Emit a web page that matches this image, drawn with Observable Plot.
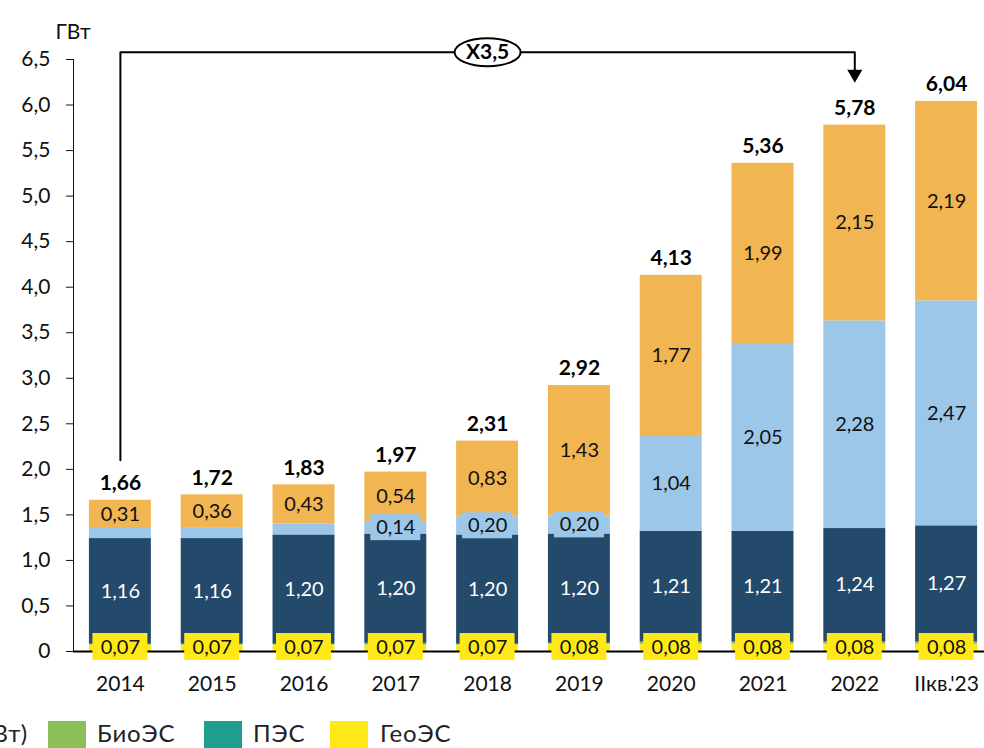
<!DOCTYPE html>
<html><head><meta charset="utf-8">
<script src="https://cdn.jsdelivr.net/npm/d3@7"></script>
<script src="https://cdn.jsdelivr.net/npm/@observablehq/plot@0.6"></script>
<style>
body{margin:0;background:#fff;font-family:Lato,sans-serif;overflow:hidden}
#wrap{width:984px;height:748px;position:relative;overflow:hidden}
#legend{position:relative;width:984px;height:38px;font-size:24px;letter-spacing:0.8px;color:#222}
#legend .sw{position:absolute;top:11px;width:38px;height:30px}
#legend .tx{position:absolute;top:8px;white-space:nowrap;line-height:30px}
</style></head><body>
<div id="wrap"><div id="chart"></div><div id="legend"></div></div>
<script>
const years = ["2014","2015","2016","2017","2018","2019","2020","2021","2022","IIкв.'23"];
const geo   = [0.07,0.07,0.07,0.07,0.07,0.08,0.08,0.08,0.08,0.08];
const bio   = [0.01,0.01,0.01,0.01,0.01,0.01,0.02,0.02,0.02,0.02];
const pes   = [0.00,0.00,0.00,0.01,0.00,0.00,0.01,0.01,0.01,0.01];
const hydro = [1.16,1.16,1.20,1.20,1.20,1.20,1.21,1.21,1.24,1.27];
const solar = [0.11,0.12,0.12,0.14,0.20,0.20,1.04,2.05,2.28,2.47];
const wind  = [0.31,0.36,0.43,0.54,0.83,1.43,1.77,1.99,2.15,2.19];
const totals = [1.66,1.72,1.83,1.97,2.31,2.92,4.13,5.36,5.78,6.04];
const seriesNames  = ["ГеоЭС","БиоЭС","ПЭС","МГЭС (до 50 МВт)","СЭС","ВЭС"];
const seriesColors = ["#FFE817","#8BBF5A","#1E9E8C","#23496B","#9DC7E8","#F1B552"];
const yTicks = [0,0.5,1,1.5,2,2.5,3,3.5,4,4.5,5,5.5,6,6.5];
const growthText = "X3,5";
const growthFrom = "2014", growthTo = "2022", growthMid = "2018";

const seriesValues = [geo, bio, pes, hydro, solar, wind];
const fmt = v => v.toFixed(2).replace(".", ",");

// stacked table
const rows = [];
years.forEach((yr, i) => {
  let acc = 0;
  seriesValues.forEach((vals, s) => {
    const v = vals[i];
    rows.push({year: yr, series: seriesNames[s], s, i, value: v, y1: acc, y2: acc + v, mid: acc + v / 2});
    acc += v;
  });
});
const totalRows = years.map((yr, i) => ({year: yr, total: totals[i]}));
const geoRows = rows.filter(d => d.s === 0);
const hydroRows = rows.filter(d => d.s === 3);
const windRows = rows.filter(d => d.s === 5);
const solarLabelRows = rows.filter(d => d.s === 4 && d.i >= 3);
const solarBoxRows = solarLabelRows.filter(d => d.value < 0.5);

// annotation path (above bars)
const topY = 6.58;
const growthPath = [
  {x: growthFrom, y: totals[0] + 0.44},
  {x: growthFrom, y: topY},
  {x: growthTo, y: topY},
  {x: growthTo, y: 6.30}
];
const ellipseSymbol = {draw(ctx){
  const rx = 33, ry = 14, k = 0.5523;
  ctx.moveTo(rx, 0);
  ctx.bezierCurveTo(rx, ry*k, rx*k, ry, 0, ry);
  ctx.bezierCurveTo(-rx*k, ry, -rx, ry*k, -rx, 0);
  ctx.bezierCurveTo(-rx, -ry*k, -rx*k, -ry, 0, -ry);
  ctx.bezierCurveTo(rx*k, -ry, rx, -ry*k, rx, 0);
  ctx.closePath();
}};

const H = 710;
const chart = Plot.plot({
  width: 984,
  height: H,
  marginTop: 59,
  marginBottom: H - 651,
  marginLeft: 73,
  marginRight: 0,
  style: {fontFamily: "Lato, sans-serif", fontSize: "21px", color: "#111", background: "#fff"},
  x: {domain: years, range: [74, 992], round: false, paddingInner: 0.325, paddingOuter: 0.1625, label: null, tickSize: 0, tickPadding: 25},
  y: {domain: [0, 6.5], ticks: yTicks, tickSize: 7, tickPadding: 16, label: null, line: true,
      tickFormat: d => d === 0 ? "0" : d.toFixed(1).replace(".", ",")},
  color: {domain: seriesNames, range: seriesColors},
  marks: [
    Plot.barY(rows, {x: "year", y1: "y1", y2: "y2", fill: "series"}),
    Plot.ruleY([0], {stroke: "#000", strokeWidth: 2}),
    // geo label boxes
    Plot.barY(geoRows, {x: "year", y1: 0, y2: 0, fill: seriesColors[0], insetTop: -18, insetBottom: -9, insetLeft: 3.5, insetRight: 3.5}),
    Plot.text(geoRows, {x: "year", y: 0, text: d => fmt(d.value), dy: -4, fill: "#111", fontSize: 20}),
    Plot.text(hydroRows, {x: "year", y: "mid", text: d => fmt(d.value), fill: "#fff", fontSize: 20}),
    Plot.barY(solarBoxRows, {x: "year", y1: "mid", y2: "mid", fill: seriesColors[4], insetTop: -13, insetBottom: -13, insetLeft: 6, insetRight: 6}),
    Plot.text(solarLabelRows, {x: "year", y: "mid", text: d => fmt(d.value), fill: "#111", fontSize: 20}),
    Plot.text(windRows, {x: "year", y: "mid", text: d => fmt(d.value), fill: "#111", fontSize: 20}),
    Plot.text(totalRows, {x: "year", y: "total", text: d => fmt(d.total), dy: -17, fill: "#000", fontWeight: "bold", fontSize: 21}),
    // growth annotation
    Plot.line(growthPath, {x: "x", y: "y", stroke: "#000", strokeWidth: 2, curve: "linear"}),
    Plot.dot([{x: growthTo, y: 6.34}], {x: "x", y: "y", symbol: "triangle", r: 5.6, rotate: 180, fill: "#000", stroke: "none"}),
    Plot.dot([{x: growthMid, y: topY}], {x: "x", y: "y", symbol: ellipseSymbol, fill: "#fff", stroke: "#000", strokeWidth: 2}),
    Plot.text([{x: growthMid, y: topY}], {x: "x", y: "y", text: () => growthText, fontWeight: "bold", fontSize: 21, fill: "#000"}),
    Plot.text(["ГВт"], {frameAnchor: "top-left", dx: -18, dy: -35, text: d => d, fontSize: 21, fill: "#111"})
  ]
});
document.getElementById("chart").appendChild(chart);

// legend (cropped at the left edge like the reference)
const legend = document.getElementById("legend");
const legendItems = [
  {name: seriesNames[1], color: seriesColors[1], sw: 48, tx: 97},
  {name: seriesNames[2], color: seriesColors[2], sw: 204, tx: 253},
  {name: seriesNames[0], color: seriesColors[0], sw: 330, tx: 380}
];
const cut = document.createElement("span");
cut.className = "tx";
cut.style.right = (984 - 28) + "px";
cut.textContent = seriesNames[3];
legend.appendChild(cut);
legendItems.forEach(it => {
  const sw = document.createElement("span");
  sw.className = "sw"; sw.style.left = it.sw + "px"; sw.style.background = it.color;
  const tx = document.createElement("span");
  tx.className = "tx"; tx.style.left = it.tx + "px"; tx.textContent = it.name;
  legend.appendChild(sw); legend.appendChild(tx);
});
</script>
</body></html>
